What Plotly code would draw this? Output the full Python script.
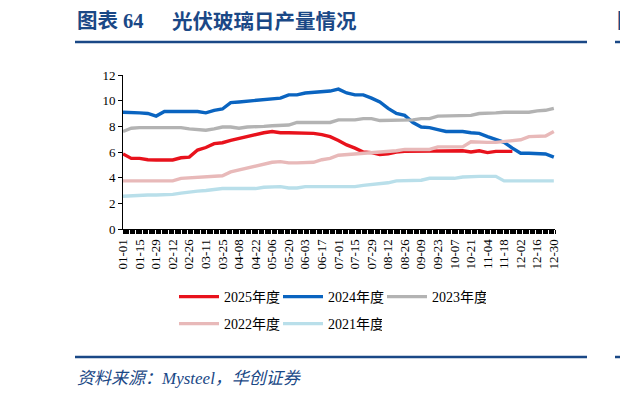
import plotly.graph_objects as go
import pandas as pd

# ---------------- data (weekly readings, 2024 calendar used as day axis) ----------------
weeks = pd.date_range("2024-01-01", periods=53, freq="7D")

y2025 = [5.85, 5.5, 5.5, 5.4, 5.38, 5.38, 5.38, 5.55, 5.6, 6.15,
         6.35, 6.65, 6.72, 6.9, 7.05, 7.25, 7.4, 7.5, 7.6, 7.5,
         7.5, 7.5, 7.5, 7.45, 7.35, 7.2, 6.9, 6.55, 6.3, 6.0,
         5.95, 5.8, 5.85, 6.0, 6.05, 6.05, 6.1, 6.1, 6.1, 6.1,
         6.1, 6.1, 6.0, 6.1, 5.95, 6.05, 6.05, 6.05]
y2024 = [9.1, 9.1, 9.05, 9.0, 8.8, 9.15, 9.15, 9.15, 9.15, 9.15,
         9.05, 9.25, 9.35, 9.85, 9.9, 9.95, 10.05, 10.05, 10.1, 10.2,
         10.45, 10.45, 10.6, 10.65, 10.7, 10.75, 10.9, 10.6, 10.45, 10.45,
         10.2, 9.9, 9.4, 9.0, 8.85, 8.3, 7.95, 7.9, 7.75, 7.6,
         7.6, 7.6, 7.5, 7.45, 7.2, 6.95, 6.75, 6.3, 5.9, 5.9,
         5.85, 5.85, 5.6]
y2023 = [7.6, 7.85, 7.9, 7.9, 7.95, 7.95, 7.95, 7.9, 7.8, 7.75,
         7.7, 7.8, 7.95, 7.95, 7.85, 7.95, 7.95, 8.0, 8.05, 8.05,
         8.1, 8.3, 8.3, 8.3, 8.3, 8.3, 8.5, 8.5, 8.5, 8.6,
         8.6, 8.45, 8.45, 8.45, 8.45, 8.5, 8.6, 8.6, 8.8, 8.8,
         8.85, 8.85, 8.85, 9.0, 9.0, 9.05, 9.1, 9.1, 9.1, 9.1,
         9.2, 9.25, 9.4]
y2022 = [3.75, 3.75, 3.8, 3.75, 3.75, 3.75, 3.75, 3.95, 4.0, 4.0,
         4.05, 4.15, 4.15, 4.45, 4.6, 4.75, 4.85, 5.05, 5.2, 5.25,
         5.15, 5.15, 5.15, 5.2, 5.4, 5.5, 5.75, 5.8, 5.8, 5.9,
         5.9, 6.0, 6.0, 6.1, 6.2, 6.2, 6.2, 6.2, 6.4, 6.4,
         6.4, 6.4, 6.8, 6.75, 6.75, 6.75, 6.8, 6.85, 6.95, 7.2,
         7.2, 7.25, 7.6]
y2021 = [2.55, 2.6, 2.6, 2.65, 2.65, 2.65, 2.7, 2.8, 2.9, 2.95,
         3.0, 3.1, 3.15, 3.15, 3.15, 3.15, 3.15, 3.25, 3.3, 3.3,
         3.2, 3.2, 3.3, 3.3, 3.3, 3.3, 3.3, 3.3, 3.3, 3.4,
         3.45, 3.55, 3.6, 3.75, 3.75, 3.75, 3.8, 3.95, 3.95, 3.95,
         3.95, 4.05, 4.1, 4.1, 4.1, 4.1, 3.75, 3.75, 3.75, 3.75,
         3.75, 3.75, 3.75]

series_names = ["2025年度", "2024年度", "2023年度", "2022年度", "2021年度"]
series_vals = [y2025, y2024, y2023, y2022, y2021]
series_colors = ["#E8121C", "#0A64C0", "#B3B3B3", "#E8B9B9", "#B9DFEA"]
series_legend = ["legend", "legend", "legend", "legend2", "legend2"]

title_left = "图表 64"
title_right = "光伏玻璃日产量情况"
source_text = "资料来源：Mysteel，华创证券"

# ---------------- layout helpers ----------------
W, H = 620, 398
L, R, T, B = 123, 555, 75, 229
NAVY = "#1A4886"
SERIF = "Liberation Serif, 'Noto Sans CJK SC', serif"


def px(x):
    return (x - L) / (R - L)


def py(y):
    return (B - y) / (B - T)


fig = go.Figure()
for name, vals, col, lg in zip(series_names, series_vals, series_colors, series_legend):
    fig.add_trace(go.Scatter(
        x=weeks[:len(vals)], y=vals, mode="lines", name=name,
        line=dict(color=col, width=3.4), legend=lg,
    ))

legend_common = dict(orientation="h", xanchor="left", yanchor="top",
                     font=dict(family=SERIF, size=14, color="black"),
                     entrywidth=49, entrywidthmode="pixels", itemwidth=40,
                     bgcolor="rgba(0,0,0,0)", borderwidth=0)

fig.update_layout(
    width=W, height=H,
    margin=dict(l=L, r=W - R, t=T, b=H - B),
    paper_bgcolor="white", plot_bgcolor="white",
    font=dict(family=SERIF, size=13, color="black"),
    legend=dict(x=px(174), y=py(281), **legend_common),
    legend2=dict(x=px(174), y=py(308), **legend_common),
    xaxis=dict(
        type="date", range=["2024-01-01", "2024-12-31"],
        tick0="2024-01-01", dtick=14 * 86400000, tickformat="%m-%d",
        tickangle=-90, ticks="outside", ticklen=4, tickcolor="black",
        showline=True, linecolor="black", linewidth=1, showgrid=False,
        tickfont=dict(family=SERIF, size=13, color="black"),
        minor=dict(dtick=86400000, ticks="outside", ticklen=4, tickcolor="black", showgrid=False),
    ),
    yaxis=dict(
        range=[0, 12], dtick=2, ticks="outside", ticklen=4, tickcolor="black",
        showline=True, linecolor="black", linewidth=1, showgrid=False, zeroline=False,
        tickfont=dict(family=SERIF, size=13, color="black"),
    ),
)

# title, rules, source
fig.add_annotation(text="<b>" + title_left + "</b>", x=px(75), y=py(21), xref="paper", yref="paper",
                   xanchor="left", yanchor="middle", showarrow=False,
                   font=dict(family=SERIF, size=20.5, color=NAVY))
fig.add_annotation(text="<b>" + title_right + "</b>", x=px(170), y=py(21), xref="paper", yref="paper",
                   xanchor="left", yanchor="middle", showarrow=False,
                   font=dict(family=SERIF, size=20.5, color=NAVY))
fig.add_annotation(text="<b>图表</b>", x=px(615), y=py(21), xref="paper", yref="paper",
                   xanchor="left", yanchor="middle", showarrow=False,
                   font=dict(family=SERIF, size=20.5, color=NAVY))
for yy in (42, 357):
    fig.add_shape(type="line", xref="paper", yref="paper", x0=px(75), x1=px(587), y0=py(yy), y1=py(yy),
                  line=dict(color=NAVY, width=2.5))
    fig.add_shape(type="line", xref="paper", yref="paper", x0=px(615), x1=px(640), y0=py(yy), y1=py(yy),
                  line=dict(color=NAVY, width=2.5))
fig.add_annotation(text="<i>" + source_text + "</i>", x=px(75), y=py(378), xref="paper", yref="paper",
                   xanchor="left", yanchor="middle", showarrow=False,
                   font=dict(family=SERIF, size=17, color=NAVY))

fig.write_html("out.html")
